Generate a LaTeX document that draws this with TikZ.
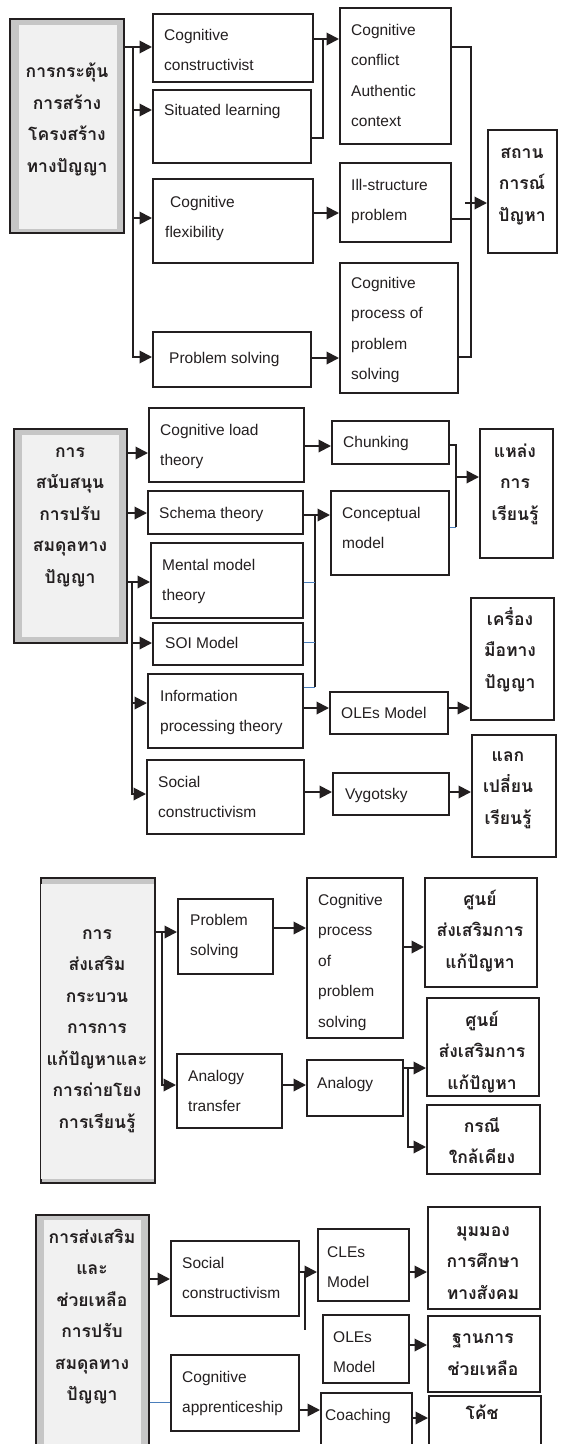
\documentclass[tikz,border=0pt]{standalone}
\usepackage{fontspec}
\setmainfont{Liberation Sans}
\newfontfamily\thfont[Script=Thai]{Loma}
\usetikzlibrary{arrows.meta}
\definecolor{ink}{HTML}{231F20}
\definecolor{band}{HTML}{C6C6C6}
\definecolor{pale}{HTML}{F1F1F1}
\definecolor{lnblue}{HTML}{4A7EBB}
\tikzset{
  bx/.style={draw=ink, line width=1.5pt, fill=white, inner sep=0pt, rectangle},
  bigbx/.style={draw=ink, line width=1.5pt, fill=band, inner sep=0pt, rectangle},
  en/.style={font=\fontsize{15.5}{30.5}\selectfont, align=left, inner sep=0pt, text=ink},
  th/.style={font=\thfont\bfseries\fontsize{17.5}{31.5}\selectfont, align=center, inner sep=0pt, text=ink},
  ln/.style={draw=ink, line width=2pt},
  arr/.style={ln, -{Triangle[length=12.5pt,width=12.5pt]}},
  bl/.style={draw=lnblue, line width=1pt},
}
% note: for multi-line nodes the base anchor is the baseline of the LAST line
\newcommand\mkbox[5]{\node[bx, minimum width={#4-#2}, minimum height={#5-#3}, anchor=north west] (#1) at (#2,#3) {};}
\newcommand\mkbig[5]{\node[bigbx, minimum width={#4-#2}, minimum height={#5-#3}, anchor=north west] (#1) at (#2,#3) {};}
\begin{document}
\begin{tikzpicture}[x=1pt,y=-1pt]
\useasboundingbox[fill=white] (0,0) rectangle (560,1444);

% ================= Section 1 =================
\mkbig{L1}{9}{18}{123}{232}
\fill[pale] ([shift={(10,7)}]L1.north west) rectangle ([shift={(-8,-5)}]L1.south east);
\node[th, anchor=base] (L1t) at (67,172) {การกระตุ้น\\การสร้าง\\โครงสร้าง\\ทางปัญญา};

\mkbox{cc}{152}{13}{312}{81}
\node[en, anchor=base west] (cct) at (164,70.5) {Cognitive\\constructivist};
\mkbox{sl}{152}{89}{310}{162}
\node[en, anchor=base west] (slt) at (164,115) {Situated learning};
\mkbox{cf}{152}{178}{312}{262}
\node[en, anchor=base west] (cft) at (165,237.5) {\hspace*{5pt}Cognitive\\flexibility};
\mkbox{ps}{152}{331}{310}{386}
\node[en, anchor=base west] (pst) at (169,363) {Problem solving};

\mkbox{ccac}{339}{7}{450}{143}
\node[en, anchor=base west] (ccact) at (351,126.5) {Cognitive\\conflict\\Authentic\\context};
\mkbox{isp}{339}{162}{450}{241}
\node[en, anchor=base west] (ispt) at (351,220.5) {Ill-structure\\problem};
\mkbox{cpa}{339}{262}{457}{392}
\node[en, anchor=base west] (cpat) at (351,379.5) {Cognitive\\process of\\problem\\solving};
\mkbox{sit}{487}{129}{556}{252}
\node[th, anchor=base] (sitt) at (522,221) {สถาน\\การณ์\\ปัญหา};

\coordinate (t1a) at (133,47);
\coordinate (t1b) at (133,357);
\draw[arr] (L1.east |- t1a) -- (cc.west |- t1a);
\draw[arr] (t1a) -- (t1b) -- (ps.west |- t1b);
\draw[arr] (t1a |- 0,110) -- (sl.west |- 0,110);
\draw[arr] (t1a |- 0,218) -- (cf.west |- 0,218);

\coordinate (m1) at (323,39);
\draw[arr] (cc.east |- m1) -- (ccac.west |- m1);
\draw[ln] (sl.east |- 0,138) -| (m1);
\draw[arr] (cf.east |- 0,213) -- (isp.west |- 0,213);
\draw[arr] (ps.east |- 0,358) -- (cpa.west |- 0,358);

\coordinate (r1a) at (471,47);
\coordinate (r1b) at (471,357);
\draw[ln] (ccac.east |- r1a) -- (r1a) -- (r1b) -- (cpa.east |- r1b);
\draw[ln] (isp.east |- 0,219) -- (r1a |- 0,219);
\coordinate (r1c) at (465,203);
\draw[arr] (r1c) -- (sit.west |- r1c);

% ================= Section 2 =================
\mkbig{L2}{13}{428}{126}{642}
\fill[pale] ([shift={(9,7)}]L2.north west) rectangle ([shift={(-9,-7)}]L2.south east);
\node[th, anchor=base] (L2t) at (70,583) {การ\\สนับสนุน\\การปรับ\\สมดุลทาง\\ปัญญา};

\mkbox{clt}{148}{407}{303}{481}
\node[en, anchor=base west] (cltt) at (160,465.5) {Cognitive load\\theory};
\mkbox{st}{147}{490}{302}{533}
\node[en, anchor=base west] (stt) at (159,518) {Schema theory};
\mkbox{mmt}{150}{542}{302}{617}
\node[en, anchor=base west] (mmtt) at (162,600.5) {Mental model\\theory};
\mkbox{soi}{152}{622}{302}{664}
\node[en, anchor=base west] (soit) at (165,648) {SOI Model};
\mkbox{ipt}{147}{673}{302}{747}
\node[en, anchor=base west] (iptt) at (160,731.5) {Information\\processing theory};
\mkbox{sc}{146}{759}{303}{833}
\node[en, anchor=base west] (sct) at (158,817.5) {Social\\constructivism};

\mkbox{chk}{331}{420}{448}{463}
\node[en, anchor=base west] (chkt) at (343,447) {Chunking};
\mkbox{cm}{330}{490}{448}{574}
\node[en, anchor=base west] (cmt) at (342,548.5) {Conceptual\\model};
\mkbox{ole}{329}{691}{447}{733}
\node[en, anchor=base west] (olet) at (341,718) {OLEs Model};
\mkbox{vyg}{332}{772}{448}{814}
\node[en, anchor=base west] (vygt) at (345,799) {Vygotsky};

\mkbox{src}{479}{428}{552}{557}
\node[th, anchor=base] (srct) at (515,520) {แหล่ง\\การ\\เรียนรู้};
\mkbox{tool}{470}{597}{553}{719}
\node[th, anchor=base] (toolt) at (510,688) {เครื่อง\\มือทาง\\ปัญญา};
\mkbox{exch}{471}{734}{555}{856}
\node[th, anchor=base] (exceht) at (508,824) {แลก\\เปลี่ยน\\เรียนรู้};

\coordinate (t2a) at (132,582);
\coordinate (t2b) at (132,794);
\draw[arr] (L2.east |- 0,453) -- (clt.west |- 0,453);
\draw[arr] (L2.east |- 0,513) -- (st.west |- 0,513);
\draw[arr] (L2.east |- t2a) -- (mmt.west |- t2a);
\draw[arr] (t2a) -- (t2b) -- (sc.west |- t2b);
\draw[arr] (t2a |- 0,643) -- (soi.west |- 0,643);
\draw[arr] (t2a |- 0,703) -- (ipt.west |- 0,703);

\coordinate (u2a) at (315,515);
\coordinate (u2b) at (315,687);
\draw[arr] (clt.east |- 0,446) -- (chk.west |- 0,446);
\draw[arr] (st.east |- u2a) -- (cm.west |- u2a);
\draw[ln] (u2a) -- (u2b);
\draw[bl] (mmt.east |- 0,582) -- (u2a |- 0,582);
\draw[bl] (soi.east |- 0,642) -- (u2a |- 0,642);
\draw[bl] (ipt.east |- u2b) -- (u2b);
\draw[arr] (ipt.east |- 0,708) -- (ole.west |- 0,708);
\draw[arr] (ole.east |- 0,708) -- (tool.west |- 0,708);

\coordinate (r2a) at (456,445);
\coordinate (r2b) at (456,527);
\draw[ln] (chk.east |- r2a) -- (r2a) -- (r2b);
\draw[bl] (cm.east |- r2b) -- (r2b);
\draw[arr] (r2a |- 0,477) -- (src.west |- 0,477);

\draw[arr] (sc.east |- 0,792) -- (vyg.west |- 0,792);
\draw[arr] (vyg.east |- 0,792) -- (exch.west |- 0,792);

% ================= Section 3 =================
\mkbig{L3}{40}{877}{154}{1182}
\fill[pale] ([shift={(1.2,7)}]L3.north west) rectangle ([shift={(-1.2,-5)}]L3.south east);
\node[th, anchor=base] (L3t) at (97,1128) {การ\\ส่งเสริม\\กระบวน\\การการ\\แก้ปัญหาและ\\การถ่ายโยง\\การเรียนรู้};

\mkbox{psb}{177}{898}{272}{973}
\node[en, anchor=base west] (psbt) at (190,955.5) {Problem\\solving};
\mkbox{at}{176}{1053}{281}{1127}
\node[en, anchor=base west] (att) at (188,1111.5) {Analogy\\transfer};
\mkbox{cpb}{306}{877}{402}{1037}
\node[en, anchor=base west] (cpbt) at (318,1027) {Cognitive\\process\\of\\problem\\solving};
\mkbox{an}{306}{1059}{402}{1115}
\node[en, anchor=base west] (ant) at (317,1088) {Analogy};
\mkbox{ctra}{424}{877}{536}{986}
\node[th, anchor=base] (ctrat) at (480,968) {ศูนย์\\ส่งเสริมการ\\แก้ปัญหา};
\mkbox{ctrb}{426}{997}{538}{1095}
\node[th, anchor=base] (ctrbt) at (482,1089) {ศูนย์\\ส่งเสริมการ\\แก้ปัญหา};
\mkbox{near}{426}{1104}{539}{1173}
\node[th, anchor=base] (neart) at (482,1163.5) {กรณี\\ใกล้เคียง};

\coordinate (t3a) at (162,932);
\coordinate (t3b) at (162,1085);
\draw[arr] (L3.east |- t3a) -- (psb.west |- t3a);
\draw[arr] (t3a) -- (t3b) -- (at.west |- t3b);
\draw[arr] (psb.east |- 0,928) -- (cpb.west |- 0,928);
\draw[arr] (cpb.east |- 0,947) -- (ctra.west |- 0,947);
\draw[arr] (at.east |- 0,1085) -- (an.west |- 0,1085);
\coordinate (r3a) at (408,1068);
\coordinate (r3b) at (408,1147);
\draw[arr] (an.east |- r3a) -- (ctrb.west |- r3a);
\draw[arr] (r3a) -- (r3b) -- (near.west |- r3b);

% ================= Section 4 =================
\mkbig{L4}{35}{1214}{148}{1470}
\fill[pale] ([shift={(9,6)}]L4.north west) rectangle ([shift={(-9,-6)}]L4.south east);
\node[th, anchor=base] (L4t) at (92,1400.5) {การส่งเสริม\\และ\\ช่วยเหลือ\\การปรับ\\สมดุลทาง\\ปัญญา};

\mkbox{scd}{170}{1240}{298}{1315}
\node[en, anchor=base west] (scdt) at (182,1298.5) {Social\\constructivism};
\mkbox{ca}{170}{1354}{298}{1430}
\node[en, anchor=base west] (cat) at (182,1412.5) {Cognitive\\apprenticeship};
\mkbox{cles}{317}{1228}{408}{1300}
\node[en, anchor=base west] (clest) at (327,1287.5) {CLEs\\Model};
\mkbox{oles}{322}{1314}{408}{1382}
\node[en, anchor=base west] (olest) at (333,1372.5) {OLEs\\Model};
\mkbox{coach}{320}{1392}{411}{1470}
\node[en, anchor=base west] (coacht) at (325,1420) {Coaching};
\mkbox{view}{427}{1206}{539}{1308}
\node[th, anchor=base] (viewt) at (483,1299) {มุมมอง\\การศึกษา\\ทางสังคม};
\mkbox{base}{427}{1315}{539}{1391}
\node[th, anchor=base] (baset) at (483,1375) {ฐานการ\\ช่วยเหลือ};
\mkbox{coth}{428}{1395}{540}{1470}
\node[th, anchor=base] (cotht) at (482,1419) {โค้ช};

\draw[arr] (L4.east |- 0,1279) -- (scd.west |- 0,1279);
\draw[bl] (L4.east |- 0,1402) -- (ca.west |- 0,1402);
\coordinate (s4a) at (305,1272);
\coordinate (s4b) at (305,1330);
\draw[arr] (scd.east |- s4a) -- (cles.west |- s4a);
\draw[ln] (s4a) -- (s4b);
\draw[arr] (cles.east |- 0,1272) -- (view.west |- 0,1272);
\draw[arr] (oles.east |- 0,1345) -- (base.west |- 0,1345);
\draw[arr] (ca.east |- 0,1410) -- (coach.west |- 0,1410);
\draw[arr] (coach.east |- 0,1418) -- (coth.west |- 0,1418);
\end{tikzpicture}
\end{document}
